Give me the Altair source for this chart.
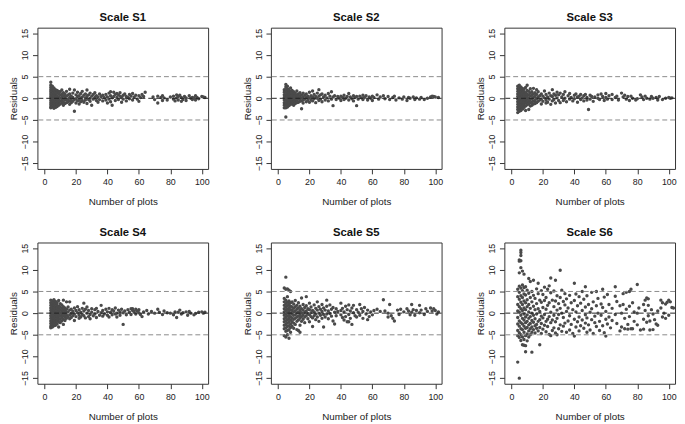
import altair as alt
import pandas as pd

TITLES = ["Scale S1", "Scale S2", "Scale S3", "Scale S4", "Scale S5", "Scale S6"]
X_TICKS = [0, 20, 40, 60, 80, 100]
Y_TICKS = [-15, -10, -5, 0, 5, 10, 15]
REF_LINES = [-5, 5]
ZERO_LINE = [0]
X_DOMAIN = [-4.5, 104]
Y_DOMAIN = [-16.3, 16.3]

# (number of plots, [residuals read at that x])
S1 = [
    (4, [3.7, 3.0, 2.5, 2.0, 1.5, 1.0, 0.5, 0, -0.5, -1.0, -1.5, -2.0, -2.2]),
    (5, [2.8, 2.2, 1.6, 1.0, 0.4, -0.2, -0.8, -1.4, -2.0]),
    (6, [2.4, 1.8, 1.2, 0.6, 0, -0.6, -1.2, -1.8, -2.3]),
    (7, [2.0, 1.4, 0.8, 0.2, -0.4, -1.0, -1.6, -2.1]),
    (8, [1.8, 1.2, 0.5, -0.1, -0.7, -1.3, -1.9]),
    (9, [1.6, 1.0, 0.3, -0.4, -1.0, -1.6]),
    (10, [1.5, 0.8, 0.1, -0.6, -1.3]),
    (11, [1.9, 0.9, 0.2, -0.5, -1.1]),
    (12, [1.3, 0.6, -0.2, -0.9, -1.6]),
    (13, [1.0, 0.3, -0.4, -1.2]),
    (14, [1.6, 0.5, -0.3, -1.0]),
    (15, [0.8, -0.2, -0.8]),
    (16, [2.1, 1.0, 0.2, -0.6, -1.4]),
    (17, [0.5, -0.4, -1.0]),
    (18, [1.2, 0.2, -0.7]),
    (19, [1.9, -0.3, -3.0]),
    (20, [0.8, -0.1, -1.1]),
    (21, [1.4, 0.4, -0.6]),
    (22, [0.6, -0.3, -1.3]),
    (23, [1.1, 0.0, -0.8]),
    (24, [1.6, 0.3, -0.5]),
    (25, [0.7, -0.9]),
    (26, [1.0, 0.1, -0.4]),
    (27, [1.9, 0.4, -1.2]),
    (28, [0.8, -0.3]),
    (29, [1.2, 0.0, -0.7]),
    (30, [0.5, -1.6]),
    (31, [0.9, -0.2]),
    (32, [1.3, 0.2]),
    (33, [0.6, -0.5]),
    (34, [-0.9, 0.3]),
    (35, [1.0, -0.3]),
    (36, [0.4]),
    (37, [-0.6, 0.7]),
    (38, [0.2]),
    (39, [0.9, -0.4]),
    (40, [0.3, -1.1]),
    (41, [1.2, -0.2]),
    (42, [1.5, 0.6, -0.8]),
    (43, [-1.6, 0.1]),
    (44, [1.4, 0.4]),
    (45, [0.9, -0.5]),
    (46, [1.1, 0.2]),
    (47, [-0.3, 0.8]),
    (48, [1.3, 0.5]),
    (49, [-0.9, 0.3]),
    (50, [0.7, -0.2]),
    (51, [1.0]),
    (52, [0.4, -0.6]),
    (53, [0.2]),
    (54, [0.9, -0.1]),
    (55, [0.5]),
    (56, [1.1, -0.4]),
    (57, [0.3]),
    (58, [0.7]),
    (59, [-0.2]),
    (60, [0.6, -0.7]),
    (61, [0.2]),
    (62, [0.9]),
    (63, [0.4]),
    (64, [1.4]),
    (69, [0.3]),
    (70, [-0.3]),
    (72, [-1.1, 0.5]),
    (74, [0.2]),
    (75, [0.6, -0.5]),
    (76, [0.1]),
    (78, [-0.4]),
    (80, [0.3]),
    (82, [0.5, -0.2]),
    (83, [-0.6]),
    (84, [0.8, 0.1]),
    (85, [0.4, -0.4]),
    (86, [0.7]),
    (87, [0.2, -0.7]),
    (88, [-0.3]),
    (89, [0.4]),
    (90, [0.1, -0.5]),
    (92, [0.6]),
    (93, [0.0]),
    (94, [0.2, -0.3]),
    (95, [0.1]),
    (96, [0.6, -0.4]),
    (97, [0.2]),
    (98, [-0.1]),
    (100, [0.4]),
    (101, [0.3]),
    (102, [0.2]),
]

S2 = [
    (4, [2.0, 1.4, 0.8, 0.2, -0.4, -1.0, -1.6, -2.2]),
    (5, [3.2, 2.6, 2.0, 1.4, 0.8, 0.2, -0.4, -1.0, -1.6, -2.2, -4.3]),
    (6, [2.8, 2.2, 1.6, 1.0, 0.4, -0.2, -0.8, -1.4, -2.0]),
    (7, [2.0, 1.4, 0.8, 0.2, -0.4, -1.0, -1.7]),
    (8, [2.4, 1.6, 1.0, 0.4, -0.2, -0.8, -1.4]),
    (9, [1.8, 1.1, 0.5, -0.1, -0.7, -1.3]),
    (10, [1.5, 0.9, 0.3, -0.3, -0.9, -1.6]),
    (11, [1.2, 0.6, 0.0, -0.6, -1.2]),
    (12, [1.7, 0.8, 0.2, -0.4, -1.0]),
    (13, [1.0, 0.4, -0.2, -0.9]),
    (14, [1.3, 0.5, -0.1, -0.7]),
    (15, [0.8, 0.1, -0.6, -2.4]),
    (16, [1.2, 0.3, -0.4, -1.1]),
    (17, [0.7, -0.2]),
    (18, [1.0, 0.2, -0.8]),
    (19, [0.5, -0.4]),
    (20, [1.4, 0.1, -0.9]),
    (21, [0.6, -0.3]),
    (22, [1.7, 0.3, -0.6]),
    (23, [0.9, -0.1]),
    (24, [0.4, -1.0]),
    (25, [1.2, 0.0]),
    (26, [2.0, 0.5, -0.5]),
    (27, [0.8, -0.2]),
    (28, [1.0, -0.8]),
    (29, [0.3]),
    (30, [0.7, -0.4]),
    (31, [0.1]),
    (32, [1.1, -0.6]),
    (33, [0.5]),
    (34, [1.5, -0.2]),
    (35, [-1.7, 0.3]),
    (36, [0.6]),
    (37, [-0.3]),
    (38, [0.4]),
    (39, [0.0]),
    (40, [0.5, -0.5]),
    (41, [0.2]),
    (42, [0.7, -0.3]),
    (43, [0.0]),
    (44, [0.4]),
    (45, [1.1, -0.4]),
    (46, [0.3]),
    (47, [-0.1]),
    (48, [0.6, -0.6]),
    (49, [0.2]),
    (50, [-1.7, 0.4]),
    (51, [-0.2]),
    (52, [0.5]),
    (53, [0.1]),
    (54, [0.7, -0.3]),
    (55, [0.2]),
    (56, [0.6]),
    (57, [-0.4]),
    (58, [0.3]),
    (59, [0.0]),
    (60, [0.5, -0.5]),
    (61, [0.2]),
    (63, [0.8]),
    (64, [-0.2]),
    (65, [0.3]),
    (67, [0.6]),
    (68, [-0.1]),
    (70, [0.4]),
    (71, [-0.3]),
    (73, [0.2]),
    (74, [0.5]),
    (75, [-0.4]),
    (77, [0.1]),
    (79, [-0.2]),
    (80, [0.3]),
    (82, [-0.5]),
    (83, [0.2]),
    (84, [0.0]),
    (86, [0.3]),
    (87, [-0.3]),
    (88, [0.1]),
    (90, [-0.2]),
    (91, [0.2]),
    (93, [-0.3]),
    (95, [0.0]),
    (97, [0.3]),
    (98, [0.5]),
    (99, [0.4]),
    (100, [0.3]),
    (102, [0.2]),
]

S3 = [
    (4, [2.8, 2.2, 1.6, 1.0, 0.4, -0.2, -0.8, -1.4, -2.0, -2.6, -3.3]),
    (5, [3.0, 2.4, 1.8, 1.2, 0.6, 0.0, -0.6, -1.2, -1.8, -2.4, -3.0]),
    (6, [2.6, 2.0, 1.4, 0.8, 0.2, -0.4, -1.0, -1.6, -2.2, -2.8]),
    (7, [2.3, 1.7, 1.1, 0.5, -0.1, -0.7, -1.3, -1.9, -2.5]),
    (8, [2.1, 1.5, 0.9, 0.3, -0.3, -0.9, -1.5, -2.1]),
    (9, [2.5, 1.3, 0.7, 0.1, -0.5, -1.1, -1.8, -2.8]),
    (10, [3.0, 1.8, 1.0, 0.4, -0.2, -0.8, -1.5]),
    (11, [1.6, 0.8, 0.0, -0.7, -1.3, -2.6]),
    (12, [2.2, 1.2, 0.5, -0.3, -1.0, -1.8]),
    (13, [1.5, 0.7, -0.1, -0.9, -1.6]),
    (14, [2.3, 1.0, 0.2, -0.6, -1.3]),
    (15, [1.3, 0.4, -0.5, -1.2]),
    (16, [2.0, 0.9, -0.1, -1.0]),
    (17, [1.5, 0.3, -0.7]),
    (18, [0.6, -0.4]),
    (19, [1.0, -0.2, -1.3]),
    (20, [0.5, -0.7]),
    (21, [1.7, 0.1]),
    (22, [0.9, -0.4, -1.1]),
    (23, [0.3, -0.9]),
    (24, [1.2, -0.2]),
    (25, [0.6, -1.4]),
    (26, [2.0, 0.4, -0.6]),
    (27, [1.0, -0.3]),
    (28, [0.7, -1.1]),
    (29, [1.4, 0.1]),
    (30, [-0.5, 0.8]),
    (31, [1.2, -1.0]),
    (32, [0.3]),
    (33, [0.9, -0.5]),
    (34, [1.5, 0.0]),
    (35, [-0.8]),
    (36, [0.6]),
    (37, [1.1, -0.2]),
    (38, [0.2]),
    (39, [-0.6]),
    (40, [0.7, -0.1]),
    (41, [1.0]),
    (42, [0.3, -0.9]),
    (43, [0.5]),
    (44, [-0.3, 0.9]),
    (45, [0.1]),
    (46, [0.6, -0.6]),
    (47, [0.9]),
    (48, [0.2, -0.4]),
    (49, [-2.6]),
    (50, [0.7, -0.2]),
    (51, [0.4]),
    (52, [-0.7]),
    (53, [0.3]),
    (55, [0.8, 0.0]),
    (56, [-0.3]),
    (57, [1.0]),
    (58, [0.4]),
    (59, [-0.5]),
    (60, [1.1, 0.2]),
    (61, [-0.2]),
    (62, [0.6]),
    (64, [0.9, -0.3]),
    (66, [0.2]),
    (67, [0.5]),
    (68, [-0.4]),
    (70, [1.2]),
    (71, [0.3]),
    (72, [0.7]),
    (73, [-0.2]),
    (74, [0.4]),
    (75, [-0.5]),
    (76, [0.5]),
    (77, [0.0]),
    (79, [-0.4]),
    (80, [-0.1]),
    (82, [0.8]),
    (83, [0.3]),
    (84, [-0.3]),
    (85, [0.5]),
    (86, [0.0]),
    (88, [-0.2]),
    (89, [0.4]),
    (90, [0.0]),
    (92, [0.2]),
    (93, [-0.4]),
    (94, [0.4]),
    (96, [-0.3]),
    (98, [0.0]),
    (100, [0.2]),
    (101, [0.0]),
    (102, [0.1]),
]

S4 = [
    (4, [3.0, 2.4, 1.8, 1.2, 0.6, 0.0, -0.6, -1.2, -1.8, -2.4, -3.0, -3.4]),
    (5, [2.8, 2.2, 1.6, 1.0, 0.4, -0.2, -0.8, -1.4, -2.0, -2.6, -3.2]),
    (6, [3.1, 2.5, 1.9, 1.3, 0.7, 0.1, -0.5, -1.1, -1.7, -2.3, -2.9]),
    (7, [2.7, 2.1, 1.5, 0.9, 0.3, -0.3, -0.9, -1.5, -2.1, -2.8]),
    (8, [2.4, 1.8, 1.2, 0.6, 0.0, -0.6, -1.2, -1.8, -2.5]),
    (9, [2.9, 1.6, 1.0, 0.4, -0.2, -0.8, -1.4, -2.0, -3.2]),
    (10, [2.2, 1.4, 0.7, 0.0, -0.7, -1.4, -2.2]),
    (11, [1.9, 1.1, 0.4, -0.3, -1.0, -1.8]),
    (12, [3.0, 1.5, 0.8, 0.1, -0.6, -1.4, -2.6]),
    (13, [1.2, 0.5, -0.2, -0.9, -1.7]),
    (14, [2.6, 0.9, 0.2, -0.5, -1.2]),
    (15, [1.4, 0.3, -0.8]),
    (16, [2.6, 0.7, -0.4, -1.3]),
    (17, [0.9, -0.1, -1.0]),
    (18, [0.4, -0.6]),
    (19, [1.2, -0.2, -1.7]),
    (20, [0.6, -0.8]),
    (21, [1.5, 0.1]),
    (22, [0.8, -0.5, -1.2]),
    (23, [0.2, -0.9]),
    (24, [1.1, -0.3]),
    (25, [2.3, 0.5, -0.6]),
    (26, [0.9, -1.1]),
    (27, [1.4, 0.0]),
    (28, [0.6, -0.8]),
    (29, [-0.3, -1.3]),
    (30, [1.0, 0.2]),
    (31, [-0.6]),
    (32, [0.8, -0.2]),
    (33, [1.1, -1.0]),
    (34, [0.4]),
    (35, [-0.5]),
    (36, [1.8, 0.1]),
    (37, [0.6, -0.7]),
    (38, [-0.2]),
    (39, [0.9]),
    (40, [0.3, -0.5]),
    (41, [1.1, -0.9]),
    (42, [0.2]),
    (43, [0.8, -0.4]),
    (44, [0.5]),
    (45, [1.2, -0.2]),
    (46, [0.0, -0.9]),
    (47, [0.7]),
    (48, [-0.5, 0.3]),
    (49, [0.9]),
    (50, [-2.6, 0.1]),
    (51, [0.5]),
    (52, [-0.4]),
    (53, [0.8]),
    (54, [0.2]),
    (55, [1.0, -0.3]),
    (56, [1.0, 0.6]),
    (57, [0.4]),
    (58, [0.9, -0.2]),
    (59, [0.5]),
    (60, [0.8, 0.1]),
    (61, [-0.3]),
    (62, [-0.8]),
    (63, [0.3]),
    (65, [0.6]),
    (66, [-0.2]),
    (68, [0.4]),
    (70, [0.0]),
    (72, [0.9]),
    (73, [0.2]),
    (75, [-0.3]),
    (76, [0.5]),
    (78, [0.1]),
    (80, [0.0]),
    (82, [-0.4]),
    (83, [0.3]),
    (84, [-1.0]),
    (85, [0.2]),
    (86, [0.7]),
    (87, [-0.2]),
    (88, [0.1]),
    (90, [0.3]),
    (91, [-0.5]),
    (92, [0.4]),
    (93, [0.0]),
    (95, [-0.4]),
    (96, [-0.1]),
    (98, [0.2]),
    (100, [0.3]),
    (101, [0.0]),
    (102, [0.2]),
]

S5 = [
    (4, [5.8, 3.4, 2.6, 1.8, 1.0, 0.3, -0.5, -1.3, -2.0, -2.8, -3.6, -5.2]),
    (5, [8.3, 5.5, 3.0, 2.2, 1.4, 0.6, -0.2, -1.0, -1.8, -2.6, -3.4, -4.2, -5.5]),
    (6, [5.6, 3.8, 2.5, 1.7, 0.9, 0.1, -0.7, -1.5, -2.3, -3.1, -4.0, -5.0]),
    (7, [5.3, 2.8, 2.0, 1.2, 0.4, -0.4, -1.2, -2.0, -2.9, -3.8, -5.8]),
    (8, [5.0, 2.4, 1.6, 0.8, 0.0, -0.8, -1.6, -2.5, -3.3, -4.4]),
    (9, [2.6, 1.4, 0.6, -0.2, -1.1, -2.0, -3.0]),
    (10, [2.1, 1.1, 0.3, -0.5, -1.4, -2.3, -3.5]),
    (11, [2.9, 1.5, 0.5, -0.4, -1.2, -2.6]),
    (12, [1.8, 0.9, 0.0, -0.9, -1.9, -3.8]),
    (13, [2.4, 1.2, 0.2, -0.7, -1.6, -4.0]),
    (14, [1.6, 0.6, -0.3, -1.2, -2.8, -4.4]),
    (15, [3.5, 1.0, 0.1, -0.8, -1.9]),
    (16, [2.0, 0.7, -0.4, -1.4]),
    (17, [1.3, 0.2, -0.9, -2.2]),
    (18, [3.8, 1.7, 0.5, -0.6]),
    (19, [1.0, -0.1, -1.3]),
    (20, [2.3, 0.8, -0.4, -2.0]),
    (21, [1.4, 0.1, -0.8]),
    (22, [0.6, -1.1, -3.1]),
    (23, [1.9, 0.3, -0.6]),
    (24, [1.1, -0.2, -1.5]),
    (25, [2.6, 0.7, -0.9]),
    (26, [1.5, 0.0, -1.9]),
    (27, [0.9, -0.5]),
    (28, [2.0, 0.4, -1.2]),
    (29, [1.2, -0.3, -3.2]),
    (30, [0.7, -0.9]),
    (31, [3.0, 1.6, -0.2]),
    (32, [0.5, -1.3]),
    (33, [1.9, -0.1]),
    (34, [0.9, -0.7]),
    (35, [1.3, -1.8]),
    (36, [0.2, -2.5]),
    (37, [1.0, -0.6]),
    (38, [0.4]),
    (40, [2.3, 0.6, -0.4]),
    (41, [1.1, -1.0]),
    (42, [0.3, -1.6]),
    (43, [1.6, -0.8]),
    (44, [0.8, -2.0]),
    (45, [1.9, -0.3, -2.0]),
    (46, [0.5, -1.2]),
    (47, [1.2, -2.6]),
    (48, [1.8, 0.1]),
    (49, [-0.6]),
    (50, [0.8, -0.9]),
    (51, [0.2]),
    (52, [2.0, -0.5]),
    (53, [1.0]),
    (54, [0.4, -1.2]),
    (55, [1.3]),
    (56, [-0.2]),
    (57, [0.7, -1.5]),
    (58, [-0.8]),
    (59, [0.3]),
    (60, [-0.4]),
    (61, [0.6]),
    (63, [0.9]),
    (65, [0.4]),
    (67, [3.1]),
    (68, [0.5]),
    (70, [0.0, -0.9]),
    (71, [2.0]),
    (72, [-0.6]),
    (73, [-1.2]),
    (74, [-1.8]),
    (76, [0.7]),
    (77, [-0.3]),
    (78, [0.9]),
    (80, [0.3]),
    (82, [1.0]),
    (83, [0.5]),
    (84, [-0.4]),
    (85, [2.0, 0.2]),
    (86, [0.8]),
    (87, [-0.5]),
    (88, [0.6]),
    (90, [1.8, 0.1]),
    (91, [0.7]),
    (93, [-0.3]),
    (94, [1.0]),
    (95, [0.4]),
    (97, [1.2]),
    (98, [0.5]),
    (99, [1.0]),
    (100, [0.6]),
    (101, [-0.2]),
    (102, [0.3]),
]

S6 = [
    (4, [5.5, 3.8, 2.0, 0.5, -1.0, -2.5, -4.0, -5.2, -11.3]),
    (5, [12.3, 12.0, 9.3, 6.2, 4.8, 3.2, 1.5, 0.2, -1.8, -3.0, -4.5, -5.6, -15.0]),
    (6, [14.5, 14.0, 13.3, 12.1, 10.5, 5.8, 4.0, 2.5, 1.0, -0.5, -2.2, -3.6, -5.0, -6.3]),
    (7, [9.7, 6.5, 5.2, 3.6, 2.0, 0.6, -1.2, -2.5, -3.8, -5.5, -7.3]),
    (8, [9.0, 5.9, 4.4, 2.8, 1.2, -0.2, -1.6, -3.0, -4.4, -6.1, -7.4]),
    (9, [6.1, 4.2, 2.4, 0.8, -0.9, -2.2, -3.5, -5.2, -7.5, -8.9]),
    (10, [5.3, 3.1, 1.5, -0.4, -1.9, -3.3, -4.8, -6.4]),
    (11, [8.0, 4.6, 2.0, 0.3, -1.2, -2.7, -4.1, -5.5]),
    (12, [7.3, 3.6, 1.1, -0.8, -2.4, -3.6, -5.0]),
    (13, [5.0, 2.6, 0.0, -1.7, -3.2, -4.4, -9.0]),
    (14, [7.6, 4.1, 1.6, -0.5, -2.1, -3.8]),
    (15, [3.4, 0.8, -1.3, -2.9, -4.6]),
    (16, [5.6, 2.2, -0.2, -2.6, -3.5]),
    (17, [6.9, 4.5, 1.0, -1.9, -4.1]),
    (18, [3.0, 0.4, -1.5, -3.3, -7.3]),
    (19, [5.2, 2.5, -0.7, -2.4, -4.7]),
    (20, [4.3, 1.3, -1.1, -3.7]),
    (21, [6.0, 2.9, -0.3, -2.8]),
    (22, [3.6, 0.9, -1.9, -4.3]),
    (23, [5.5, 1.8, -1.4, -3.1]),
    (24, [6.3, 2.4, -0.8, -4.9]),
    (25, [8.1, 4.7, 0.2, -2.2, -5.2]),
    (26, [3.0, -1.6, -4.0]),
    (27, [5.1, 1.5, -0.5, -3.4]),
    (28, [7.6, 2.8, -2.0, -4.6]),
    (29, [4.0, 0.7, -1.2, -5.0]),
    (30, [2.2, -0.3, -3.6]),
    (31, [9.9, 3.6, 1.1, -2.7]),
    (32, [5.3, 0.0, -4.2]),
    (33, [2.7, -1.0, -3.0]),
    (34, [4.5, 1.9, -2.3]),
    (35, [3.3, 0.4, -4.4]),
    (36, [1.2, -1.8]),
    (37, [4.1, -0.6, -3.9]),
    (38, [2.4, -2.6]),
    (39, [0.8, -4.7]),
    (40, [6.9, 2.9, -1.4, -5.3]),
    (41, [4.4, 0.3, -3.2]),
    (42, [1.7, -2.0]),
    (43, [3.8, -0.9, -4.1]),
    (44, [2.3, -2.9]),
    (45, [5.0, 0.6, -1.6]),
    (46, [3.2, -3.5]),
    (47, [6.1, 1.4, -0.4, -2.3]),
    (48, [4.0, -1.1, -4.4]),
    (49, [2.0, -2.7]),
    (50, [0.2, -3.9]),
    (51, [4.8, 1.0, -1.5]),
    (52, [2.6, -4.7]),
    (53, [-0.7, -2.2]),
    (54, [5.0, 1.7, -3.1]),
    (55, [3.4, 0.0]),
    (56, [-1.9, -4.0]),
    (57, [2.1, -0.5]),
    (58, [5.5, 1.3, -2.9]),
    (59, [3.7, -4.5]),
    (60, [0.4, -1.4, -5.3]),
    (61, [4.3, -2.5]),
    (62, [2.0, -0.9]),
    (63, [-3.4]),
    (64, [1.1, -1.7]),
    (66, [6.1, 3.9, -0.3]),
    (67, [2.7, -2.4]),
    (69, [1.7, -4.1]),
    (70, [0.0, -3.2]),
    (71, [4.5, 2.0]),
    (72, [-1.2, -3.6]),
    (73, [4.8, 0.9]),
    (74, [-2.6, -3.7]),
    (75, [5.0, 1.6, -0.8]),
    (76, [5.5, -3.6]),
    (77, [2.4, -3.6]),
    (78, [0.3, -1.9]),
    (80, [6.6, 0.0, -2.7]),
    (81, [1.2]),
    (82, [-3.9]),
    (84, [2.0, -1.4, -3.7]),
    (85, [3.0, 0.6]),
    (86, [3.5, -2.1]),
    (87, [3.3, 1.8, -0.6]),
    (88, [-1.8, -3.9]),
    (89, [0.8]),
    (90, [-0.2, -3.8]),
    (91, [-1.5]),
    (92, [-2.5]),
    (93, [0.5, -2.8]),
    (95, [3.0, 1.2]),
    (96, [2.4, -0.9]),
    (97, [0.0]),
    (98, [2.1, -1.2]),
    (99, [2.5]),
    (100, [3.0, -0.5]),
    (101, [2.6]),
    (102, [1.3]),
    (103, [1.2]),
]

PANELS = [S1, S2, S3, S4, S5, S6]

FONT = "Liberation Sans"
W, H = 174, 144


def to_frame(groups):
    rows = [{"plots": x, "resid": y} for x, ys in groups for y in ys]
    return pd.DataFrame(rows)


def x_enc():
    return alt.X(
        "plots:Q",
        scale=alt.Scale(domain=X_DOMAIN, nice=False, zero=False),
        axis=alt.Axis(values=X_TICKS, title="Number of plots", labelPadding=4,
                      titlePadding=10),
    )


def y_enc(field):
    return alt.Y(
        f"{field}:Q",
        scale=alt.Scale(domain=Y_DOMAIN, nice=False, zero=False),
        axis=alt.Axis(values=Y_TICKS, title="Residuals", labelAngle=270,
                      labelPadding=3, titlePadding=2),
    )


def panel(title, groups):
    pts = alt.Chart(to_frame(groups)).mark_circle(
        size=12, color="#4a4a4a", opacity=1
    ).encode(x=x_enc(), y=y_enc("resid"))
    side = alt.Chart(pd.DataFrame({"resid": REF_LINES})).mark_rule(
        color="#8a8a8a", strokeDash=[5, 3], strokeWidth=1
    ).encode(y=y_enc("resid"))
    zero = alt.Chart(pd.DataFrame({"resid": ZERO_LINE})).mark_rule(
        color="#222222", strokeDash=[5, 3], strokeWidth=1
    ).encode(y=y_enc("resid"))
    return alt.layer(pts, side, zero).properties(
        width=W, height=H,
        title=alt.TitleParams(title, fontSize=11.5, fontWeight="bold", font=FONT,
                              color="#111111", offset=4),
    )


charts = [panel(t, g) for t, g in zip(TITLES, PANELS)]
row1 = alt.hconcat(*charts[:3], spacing=32)
row2 = alt.hconcat(*charts[3:], spacing=32)

chart = alt.vconcat(row1, row2, spacing=20).properties(
    padding=0, background="white"
).configure_view(
    stroke="#333333", strokeWidth=1
).configure_axis(
    domain=False, grid=False, tickColor="#333333", tickSize=5,
    labelFont=FONT, labelFontSize=9, labelColor="#222222",
    titleFont=FONT, titleFontSize=10, titleFontWeight="normal", titleColor="#222222",
)

chart.save("out.html", embed_options={"renderer": "svg", "actions": False})
